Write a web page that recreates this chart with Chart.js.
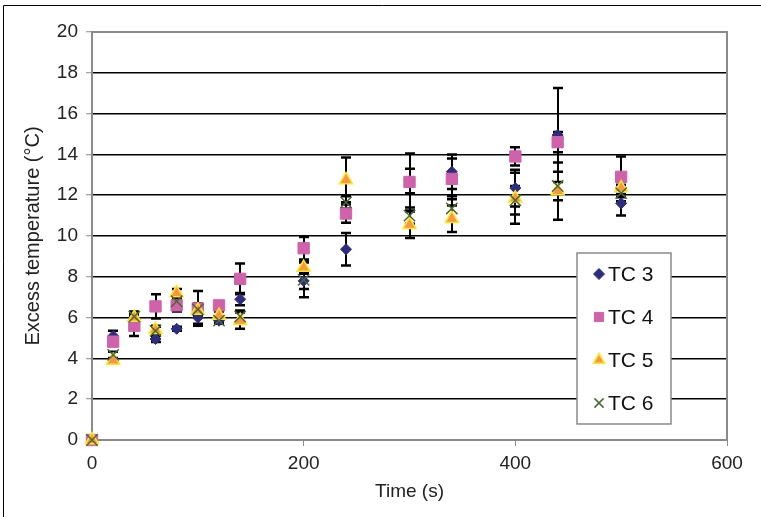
<!DOCTYPE html>
<html><head><meta charset="utf-8">
<script src="https://cdn.jsdelivr.net/npm/chart.js@4"></script>
<style>html,body{margin:0;padding:0;background:#fff;}#wrap{position:relative;width:761px;height:517px;}</style>
</head><body><div id="wrap"><canvas id="c" width="761" height="517"></canvas></div>
<script>
const times = [0, 20, 40, 60, 80, 100, 120, 140, 200, 240, 300, 340, 400, 440, 500];
const tc3 = [0, 5.1, 5.9, 4.95, 5.45, 6.0, 5.85, 6.9, 7.8, 9.35, 12.7, 13.15, 12.35, 14.95, 11.6];
const tc4 = [0, 4.82, 5.6, 6.55, 6.6, 6.45, 6.6, 7.9, 9.4, 11.1, 12.65, 12.8, 13.9, 14.6, 12.9];
const tc5 = [0, 3.9, 6.0, 5.4, 7.2, 6.35, 6.1, 5.85, 8.45, 12.75, 10.55, 10.85, 11.85, 12.2, 12.35];
const tc6 = [0, 4.17, 6.05, 5.35, 6.8, 6.4, 5.85, 6.05, 7.85, 11.65, 11.0, 11.35, 11.75, 12.45, 12.1];
const tc3Err = [0, 0.25, 0.2, 0.15, 0.1, 0.3, 0.1, 0.3, 0.4, 0.8, 0.6, 0.85, 0.9, 2.3, 0.6];
const tc4Err = [0, 0.2, 0.5, 0.6, 0.3, 0.85, 0.1, 0.75, 0.55, 0.45, 1.4, 1.0, 0.45, 0.5, 1.0];
const tc5Err = [0, 0.1, 0.2, 0.2, 0.2, 0.3, 0.2, 0.4, 0.3, 1.1, 0.65, 0.65, 1.25, 1.4, 0.3];
const tc6Err = [0, 0.15, 0.25, 0.2, 0.2, 0.3, 0.15, 0.3, 0.85, 0.3, 0.4, 0.6, 0.7, 0.7, 0.4];
const seriesNames = ['TC 3', 'TC 4', 'TC 5', 'TC 6'];
const xTickValues = [0, 200, 400, 600];
const yTickValues = [0, 2, 4, 6, 8, 10, 12, 14, 16, 18, 20];
const xTitle = 'Time (s)';
const yTitle = 'Excess temperature (°C)';

const FONT = '"Liberation Sans", Arial, sans-serif';
const pts = vals => times.map((t, i) => ({x: t, y: vals[i]}));

const styles = [
  {pointStyle: 'rectRot', pointRadius: 5.5, backgroundColor: '#2E2C7E', borderColor: '#2E2C7E', pointBorderWidth: 1},
  {pointStyle: 'rect', pointRadius: 8, backgroundColor: '#CF62AA', borderColor: '#CF62AA', pointBorderWidth: 1},
  {pointStyle: 'triangle', pointRadius: 7.5, backgroundColor: '#F7964A', borderColor: '#FFE81A', pointBorderWidth: 1.5},
  {pointStyle: 'crossRot', pointRadius: 8, backgroundColor: '#4A6B35', borderColor: '#4A6B35', pointBorderWidth: 1.5}
];
const values = [tc3, tc4, tc5, tc6];
const errs = [tc3Err, tc4Err, tc5Err, tc6Err];

const datasets = seriesNames.map((name, i) => Object.assign({
  label: name,
  data: pts(values[i]),
  errors: errs[i],
  showLine: false,
  clip: false,
  order: 4 - i,
  pointHoverRadius: styles[i].pointRadius
}, styles[i]));

const outerBorder = {
  id: 'outerBorder',
  afterDraw(chart) {
    const ctx = chart.ctx;
    ctx.save();
    ctx.strokeStyle = '#000'; ctx.lineWidth = 1;
    ctx.beginPath();
    ctx.moveTo(3.5, 517); ctx.lineTo(3.5, 5.5); ctx.lineTo(761, 5.5);
    ctx.stroke();
    ctx.restore();
  }
};

const frame = {
  id: 'frame',
  beforeDatasetsDraw(chart) {
    const {ctx, chartArea: a} = chart;
    ctx.save();
    ctx.strokeStyle = '#8a8a8a'; ctx.lineWidth = 2;
    ctx.strokeRect(a.left, a.top, a.right - a.left, a.bottom - a.top);
    ctx.restore();
  }
};

const errorBars = {
  id: 'errorBars',
  beforeDatasetsDraw(chart) {
    const {ctx, scales: {x, y}} = chart;
    ctx.save();
    ctx.strokeStyle = '#000';
    chart.data.datasets.forEach(ds => {
      ds.data.forEach((p, i) => {
        const e = ds.errors[i];
        if (!e) return;
        const px = Math.round(x.getPixelForValue(p.x));
        const t = y.getPixelForValue(p.y + e), b = y.getPixelForValue(p.y - e);
        ctx.lineWidth = 2;
        ctx.beginPath(); ctx.moveTo(px, t); ctx.lineTo(px, b); ctx.stroke();
        ctx.lineWidth = 2.5;
        ctx.beginPath();
        ctx.moveTo(px - 5, t); ctx.lineTo(px + 5, t);
        ctx.moveTo(px - 5, b); ctx.lineTo(px + 5, b);
        ctx.stroke();
      });
    });
    ctx.restore();
  }
};

const legendBox = {
  id: 'legendBox',
  afterDatasetsDraw(chart) {
    const {ctx, chartArea: a} = chart;
    const L = a.right - 150, T = a.top + 221, W = 94, H = 171;
    ctx.save();
    ctx.fillStyle = '#fff'; ctx.fillRect(L, T, W, H);
    ctx.strokeStyle = '#8a8a8a'; ctx.lineWidth = 1.5; ctx.strokeRect(L, T, W, H);
    chart.data.datasets.forEach((ds, i) => {
      const cy = T + 21 + i * 43;
      ctx.fillStyle = ds.backgroundColor;
      ctx.strokeStyle = ds.borderColor;
      ctx.lineWidth = ds.pointBorderWidth;
      Chart.helpers.drawPoint(ctx, {pointStyle: ds.pointStyle, radius: Math.min(ds.pointRadius, 6.5), borderWidth: ds.pointBorderWidth, rotation: 0}, L + 22, cy);
      ctx.fillStyle = '#111';
      ctx.font = '21px ' + FONT;
      ctx.textBaseline = 'middle';
      ctx.textAlign = 'left';
      ctx.fillText(ds.label, L + 31, cy + 1);
    });
    ctx.restore();
  }
};

new Chart(document.getElementById('c'), {
  type: 'scatter',
  data: {datasets},
  plugins: [outerBorder, frame, errorBars, legendBox],
  options: {
    responsive: false,
    devicePixelRatio: 1,
    animation: false,
    layout: {padding: {left: 21, top: 32, right: 34, bottom: 14}},
    plugins: {legend: {display: false}, tooltip: {enabled: false}},
    scales: {
      x: {
        type: 'linear', min: 0, max: 600,
        afterBuildTicks: s => { s.ticks = xTickValues.map(v => ({value: v})); },
        afterFit: s => { s.height = 63; },
        grid: {drawOnChartArea: false, drawTicks: true, tickLength: 6, tickColor: '#8a8a8a', tickWidth: 1},
        border: {display: false},
        ticks: {color: '#222', font: {family: FONT, size: 19}, padding: 6, maxRotation: 0},
        title: {display: true, text: xTitle, color: '#222', font: {family: FONT, size: 19}, padding: 0}
      },
      y: {
        type: 'linear', min: 0, max: 20,
        afterBuildTicks: s => { s.ticks = yTickValues.map(v => ({value: v})); },
        afterFit: s => { s.width = 71; },
        grid: {
          color: c => (c.tick && (c.tick.value === 0 || c.tick.value === 20)) ? 'rgba(0,0,0,0)' : '#000',
          lineWidth: 1.5, drawTicks: true, tickLength: 6, tickColor: '#8a8a8a', tickWidth: 1
        },
        border: {display: false},
        ticks: {color: '#222', font: {family: FONT, size: 19}, padding: 8},
        title: {display: true, text: yTitle, color: '#222', font: {family: FONT, size: 20}, padding: 0}
      }
    }
  }
});
</script></body></html>
